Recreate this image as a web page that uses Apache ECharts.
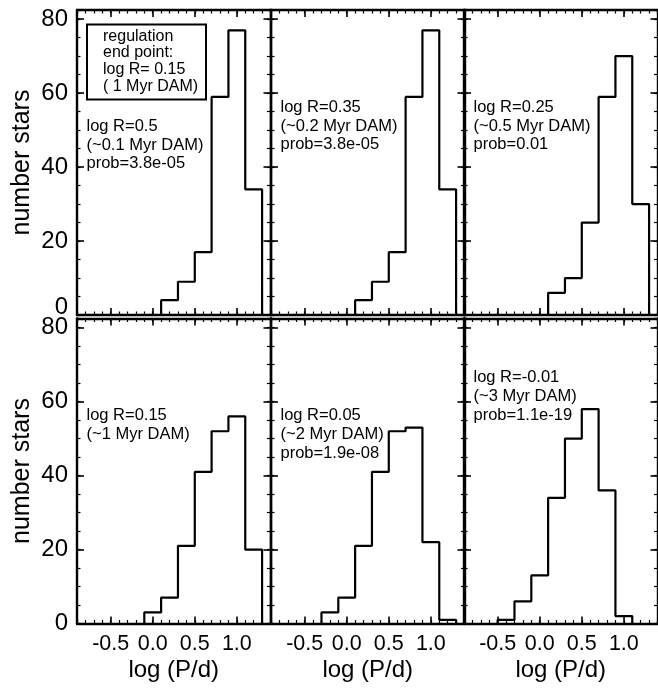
<!DOCTYPE html>
<html>
<head>
<meta charset="utf-8">
<script src="https://cdn.jsdelivr.net/npm/echarts@6/dist/echarts.min.js"></script>
<style>
  html, body { margin: 0; padding: 0; background: #fff; }
  #chart { width: 658px; height: 689px; }
</style>
</head>
<body>
<div id="chart"></div>
<script>
// Period histograms (log P/d), bin width 0.2 dex, six model panels
const BIN_WIDTH = 0.2;
const X_MIN = -0.9, X_MAX = 1.4;
const Y_MIN = 0, Y_MAX = 82.5;
const xTickValues = [-0.5, 0.0, 0.5, 1.0];
const yTickValues = [0, 20, 40, 60, 80];

// first bin edge and counts of each panel
const topLeftStart = 0.1;
const topLeftCounts = [4, 9, 17, 59, 77, 34];
const topMidStart = 0.1;
const topMidCounts = [4, 9, 17, 59, 77, 34];
const topRightStart = 0.1;
const topRightCounts = [6, 10, 25, 59, 70, 30];
const botLeftStart = -0.1;
const botLeftCounts = [3, 7, 21, 41, 52, 56, 20];
const botMidStart = -0.3;
const botMidCounts = [3, 7, 21, 41, 52, 53, 22, 1];
const botRightStart = -0.5;
const botRightCounts = [1, 6, 13, 34, 50, 58, 36, 2];

// panel annotations
const topLeftText = ['log R=0.5', '(~0.1 Myr DAM)', 'prob=3.8e-05'];
const topMidText = ['log R=0.35', '(~0.2 Myr DAM)', 'prob=3.8e-05'];
const topRightText = ['log R=0.25', '(~0.5 Myr DAM)', 'prob=0.01'];
const botLeftText = ['log R=0.15', '(~1 Myr DAM)'];
const botMidText = ['log R=0.05', '(~2 Myr DAM)', 'prob=1.9e-08'];
const botRightText = ['log R=-0.01', '(~3 Myr DAM)', 'prob=1.1e-19'];
const boxText = ['regulation', 'end point:', 'log R= 0.15', '( 1 Myr DAM)'];

const xTitle = 'log (P/d)';
const yTitle = 'number stars';

const FONT = '"Liberation Sans", Arial, Helvetica, sans-serif';

const panels = [
  { row: 0, col: 0, start: topLeftStart, counts: topLeftCounts, text: topLeftText },
  { row: 0, col: 1, start: topMidStart, counts: topMidCounts, text: topMidText },
  { row: 0, col: 2, start: topRightStart, counts: topRightCounts, text: topRightText },
  { row: 1, col: 0, start: botLeftStart, counts: botLeftCounts, text: botLeftText },
  { row: 1, col: 1, start: botMidStart, counts: botMidCounts, text: botMidText },
  { row: 1, col: 2, start: botRightStart, counts: botRightCounts, text: botRightText }
];

// layout of the 3 x 2 panel grid
const gridLefts = [77, 271, 464];
const gridWidth = 193.5;
const gridTops = [10, 318.5];
const gridHeight = 305;

// closed step outline of a histogram, in data units
function outline(start, counts) {
  const r = v => Math.round(v * 100) / 100;
  const pts = [[r(start), 0]];
  counts.forEach((c, i) => {
    const a = r(start + i * BIN_WIDTH);
    const b = r(start + (i + 1) * BIN_WIDTH);
    pts.push([a, c], [b, c]);
  });
  pts.push([r(start + counts.length * BIN_WIDTH), 0]);
  return pts;
}

const black = '#000';
const grid = [], xAxis = [], yAxis = [], series = [], graphic = [];

panels.forEach((p, g) => {
  grid.push({
    left: gridLefts[p.col], top: gridTops[p.row],
    width: gridWidth, height: gridHeight, containLabel: false
  });

  const xBase = {
    gridIndex: g, type: 'value', min: X_MIN, max: X_MAX, interval: 0.1,
    splitLine: { show: false }
  };
  ['bottom', 'top'].forEach(pos => {
    const labelled = pos === 'bottom' && p.row === 1;
    xAxis.push(Object.assign({}, xBase, {
      position: pos,
      axisLine: { show: true, onZero: false, lineStyle: { color: black, width: 2.4 } },
      axisTick: { show: true, inside: true, length: 7, customValues: xTickValues,
                  lineStyle: { color: black, width: 1.6 } },
      axisLabel: { show: labelled, customValues: xTickValues, margin: 10,
                   formatter: v => v.toFixed(1),
                   color: black, fontSize: 21.5, fontFamily: FONT },
      name: labelled ? xTitle : '',
      nameLocation: 'middle', nameGap: 35,
      nameTextStyle: { color: black, fontSize: 24, fontFamily: FONT }
    }));
    // minor ticks every 0.1
    xAxis.push(Object.assign({}, xBase, {
      position: pos,
      axisLine: { show: false, onZero: false },
      axisTick: { show: true, inside: true, length: 3.5, lineStyle: { color: black, width: 1.2 } },
      axisLabel: { show: false }
    }));
  });

  const yBase = {
    gridIndex: g, type: 'value', min: Y_MIN, max: Y_MAX, interval: 5,
    splitLine: { show: false }
  };
  ['left', 'right'].forEach(pos => {
    const labelled = pos === 'left' && p.col === 0;
    yAxis.push(Object.assign({}, yBase, {
      position: pos,
      axisLine: { show: true, onZero: false, lineStyle: { color: black, width: 2.4 } },
      axisTick: { show: true, inside: true, length: 7, customValues: yTickValues,
                  lineStyle: { color: black, width: 1.6 } },
      axisLabel: { show: labelled, customValues: yTickValues, margin: 9,
                   color: black, fontSize: 24, fontFamily: FONT,
                   formatter: v => (p.row === 0 && v === 0) ? '{lift|0}' : String(v),
                   rich: { lift: { fontSize: 24, fontFamily: FONT, color: black,
                                   padding: [0, 0, 16, 0] } } },
      name: labelled ? yTitle : '',
      nameLocation: 'middle', nameGap: 42, nameRotate: 90,
      nameTextStyle: { color: black, fontSize: 25, fontFamily: FONT }
    }));
    // minor ticks every 5 stars
    yAxis.push(Object.assign({}, yBase, {
      position: pos,
      axisLine: { show: false, onZero: false },
      axisTick: { show: true, inside: true, length: 3.5, lineStyle: { color: black, width: 1.2 } },
      axisLabel: { show: false }
    }));
  });

  series.push({
    type: 'line',
    xAxisIndex: g * 4,
    yAxisIndex: g * 4,
    data: outline(p.start, p.counts),
    showSymbol: false,
    silent: true,
    lineStyle: { color: black, width: 2.2 },
    z: 3
  });

  graphic.push({
    type: 'text',
    left: gridLefts[p.col] + 9.5,
    top: gridTops[p.row] + (p.row === 0
      ? (p.col === 0 ? 107 : 88)
      : (p.col === 2 ? 50 : 88)),
    style: {
      text: p.text.join('\n'),
      fill: black, fontSize: 16.5, fontFamily: FONT, lineHeight: 18.7
    }
  });
});

// regulation end-point box in the first panel
graphic.push({
  type: 'rect',
  shape: { x: 87, y: 24.5, width: 119, height: 75 },
  style: { fill: 'none', stroke: black, lineWidth: 2 }
});
graphic.push({
  type: 'text',
  left: 103, top: 28,
  style: {
    text: boxText.join('\n'),
    fill: black, fontSize: 16, fontFamily: FONT, lineHeight: 16.7
  }
});

const chart = echarts.init(document.getElementById('chart'), null, { renderer: 'canvas' });
chart.setOption({
  backgroundColor: '#fff',
  animation: false,
  grid, xAxis, yAxis, series, graphic
});
</script>
</body>
</html>
